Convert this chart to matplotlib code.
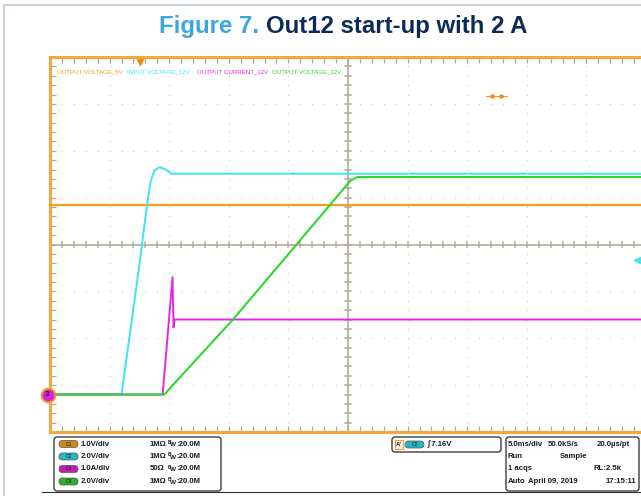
import matplotlib
matplotlib.use('Agg')
import matplotlib.pyplot as plt
import numpy as np
from matplotlib.patches import FancyBboxPatch, Rectangle

plt.rcParams['font.family'] = ['Liberation Sans', 'DejaVu Sans']

# time in ms (5 ms/div), level in screen divisions from centre
ch1_t = [0, 50]
ch1_y = [0.85, 0.85]
ch2_t = [0, 6.0, 7.55, 8.15, 8.45, 8.75, 9.2, 9.7, 10.2, 50]
ch2_y = [-3.2, -3.2, -0.34, 0.87, 1.35, 1.58, 1.65, 1.60, 1.51, 1.51]
ch3_t = [0, 9.45, 10.28, 10.36, 10.45, 50]
ch3_y = [-3.2, -3.2, -0.70, -1.77, -1.60, -1.60]
ch4_t = [0, 9.6, 10.3, 15.35, 19.55, 25.2, 25.8, 50]
ch4_y = [-3.2, -3.2, -3.0, -1.6, -0.34, 1.36, 1.44, 1.44]

trace_names = ['OUTPUT VOLTAGE_5V', 'INPUT VOLTAGE_12V', 'OUTPUT CURRENT_12V', 'OUTPUT VOLTAGE_12V']
trace_cols = ['#f4a21e', '#3fe3f2', '#e626e6', '#2ed82e']
name_x = [57, 127, 197, 272]

ch_labels = ['C1', 'C2', 'C3', 'C4']
ch_badge = ['#c98a1c', '#22b8c4', '#b91eb9', '#2fae2f']
ch_scale = ['1.0V/div', '2.0V/div', '1.0A/div', '2.0V/div']
ch_imp = ['1MΩ', '1MΩ', '50Ω', '1MΩ']

trig_level = '7.16V'
acq_rows = [['5.0ms/div', '50.0kS/s', '20.0µs/pt'],
            ['Run', 'Sample', ''],
            ['1 acqs', '', 'RL:2.5k'],
            ['Auto', 'April 09, 2019', '17:15:11']]
acq_x = [[508, 548, 597], [508, 560, 0], [508, 0, 594], [508, 528, 606]]

W, H = 641, 496
fig = plt.figure(figsize=(W / 100, H / 100), dpi=100)

# scope screen: x 50..646 px, y 57..432 px
left, right, top, bot = 50, 646, 57, 432
ax = fig.add_axes([left / W, 1 - bot / H, (right - left) / W, (bot - top) / H])
ax.set_xlim(0, 50)
ax.set_ylim(-4, 4)

grid_c = '#cdcdcd'
axis_c = '#b3ab9c'
# dotted graticule
for gx in np.arange(5, 50, 5):
    yy = np.arange(-4, 4.01, 0.2)
    ax.plot(np.full_like(yy, gx), yy, ls='none', marker='s', ms=0.8, color=grid_c, mec='none')
for gy in np.arange(-3, 4, 1):
    xx = np.arange(0, 50.01, 1)
    ax.plot(xx, np.full_like(xx, gy), ls='none', marker='s', ms=0.8, color=grid_c, mec='none')
# centre axes with ticks
ax.axhline(0, color=axis_c, lw=1.2)
ax.axvline(25, color=axis_c, lw=1.2)
for mx in np.arange(0, 50.01, 1):
    ax.plot([mx, mx], [-0.06, 0.06], color=axis_c, lw=1.1)
for my in np.arange(-4, 4.01, 0.2):
    ax.plot([24.78, 25.22], [my, my], color=axis_c, lw=1.1)

# traces
ax.plot(ch1_t, ch1_y, color=trace_cols[0], lw=1.6, zorder=3)
ax.plot(ch2_t, ch2_y, color=trace_cols[1], lw=1.4, zorder=4)
ax.plot(ch3_t, ch3_y, color=trace_cols[2], lw=1.4, zorder=5)
ax.plot(ch4_t, ch4_y, color=trace_cols[3], lw=1.5, zorder=6)

# markers
ax.plot(7.55, 3.9, marker='v', color='#f08a10', ms=5, clip_on=False, zorder=8)
ax.plot([36.6, 38.3], [3.16, 3.16], color=trace_cols[0], lw=0.8)
ax.plot([37.1, 37.8], [3.16, 3.16], ls='none', marker='o', ms=2.2, color='#f08a10')
ax.plot(49.25, -0.34, marker='<', color=trace_cols[1], ms=5, zorder=8)
ax.plot([49.25, 50], [-0.34, -0.34], color=trace_cols[1], lw=1.2)
ax.plot(-0.2, -3.2, marker='o', ms=10, mfc='#e020e0', mec='#f4a21e', mew=1.3, clip_on=False, zorder=9)
ax.text(-0.2, -3.2, '3', ha='center', va='center', fontsize=6, fontweight='bold', color='#202020', zorder=10)

# frame
for s in ['left', 'top', 'bottom']:
    ax.spines[s].set_color('#f4a83a')
    ax.spines[s].set_linewidth(2.2)
ax.spines['right'].set_visible(False)
ax.set_xticks(np.arange(0, 51, 1))
ax.set_yticks(np.arange(-4, 4.01, 0.2))
ax.tick_params(axis='both', direction='in', length=4, width=0.9, color='#a8a8a8',
               labelbottom=False, labelleft=False, top=True, bottom=True, left=True, right=False)
ax.set_facecolor('white')

# overlay in pixel coordinates
ov = fig.add_axes([0, 0, 1, 1], zorder=10)
ov.set_xlim(0, W)
ov.set_ylim(H, 0)
ov.axis('off')

# page border
ov.plot([4, 4, W], [H, 5, 5], color='#c9d1da', lw=1.6)
ov.plot([42, W], [492, 492], color='#303030', lw=0.8)

# title in two colours
t1 = ov.text(159, 33, 'Figure 7.', color='#3aa8dc', fontsize=17.3, fontweight='bold', va='baseline')
fig.canvas.draw()
bb = t1.get_window_extent()
x_end = bb.x1  # display px, same as figure px at dpi 100
ov.text(x_end + 7, 33, 'Out12 start-up with 2 A', color='#0d2b57', fontsize=17.3,
        fontweight='bold', va='baseline')

for nm, c, x in zip(trace_names, trace_cols, name_x):
    ov.text(x, 72, nm, color=c, fontsize=4.4, va='center')

# info boxes
box_kw = dict(boxstyle='round,pad=0,rounding_size=3', fc='white', ec='#3c3c3c', lw=1)
ov.add_patch(FancyBboxPatch((54, 437), 167, 54, **box_kw))
ov.add_patch(FancyBboxPatch((392, 437), 109, 15, **box_kw))
ov.add_patch(FancyBboxPatch((506, 437), 133, 54, **box_kw))

row_y = [444, 456.5, 469, 481.5]
tk = dict(fontsize=5.6, fontweight='bold', color='#1a1a1a', va='center')
for i in range(4):
    ov.add_patch(FancyBboxPatch((59, row_y[i] - 3.5), 19, 7, boxstyle='round,pad=0,rounding_size=3.5',
                                fc=ch_badge[i], ec='#555555', lw=0.5))
    ov.text(68.5, row_y[i], ch_labels[i], ha='center', va='center', fontsize=3.6, color='#202020')
    ov.text(81, row_y[i], ch_scale[i], **tk)
    ov.text(150, row_y[i], ch_imp[i], **tk)
    ov.text(168, row_y[i] - 1.8, 'B', fontsize=3.6, fontweight='bold', color='#1a1a1a', va='center')
    ov.text(170.5, row_y[i] + 0.8, 'W', fontsize=4.6, fontweight='bold', color='#1a1a1a', va='center')
    ov.text(176.5, row_y[i], ':20.0M', **tk)

# trigger box
ov.add_patch(Rectangle((395, 440), 8, 9, fc='#f4f4f4', ec='#f4a21e', lw=0.8))
ov.text(399, 444.5, "A'", ha='center', va='center', fontsize=4.5, fontweight='bold', color='#202020')
ov.add_patch(FancyBboxPatch((405, 441), 19, 7, boxstyle='round,pad=0,rounding_size=3.5',
                            fc=ch_badge[1], ec='#555555', lw=0.5))
ov.text(414.5, 444.5, 'C2', ha='center', va='center', fontsize=3.6, color='#202020')
ov.text(427, 444.5, '∫ ' + trig_level, fontsize=5.6, fontweight='bold', color='#1a1a1a', va='center')

for r in range(4):
    for c in range(3):
        if acq_rows[r][c]:
            ov.text(acq_x[r][c], row_y[r], acq_rows[r][c], **tk)

fig.savefig('out.png', dpi=100, facecolor='white')
